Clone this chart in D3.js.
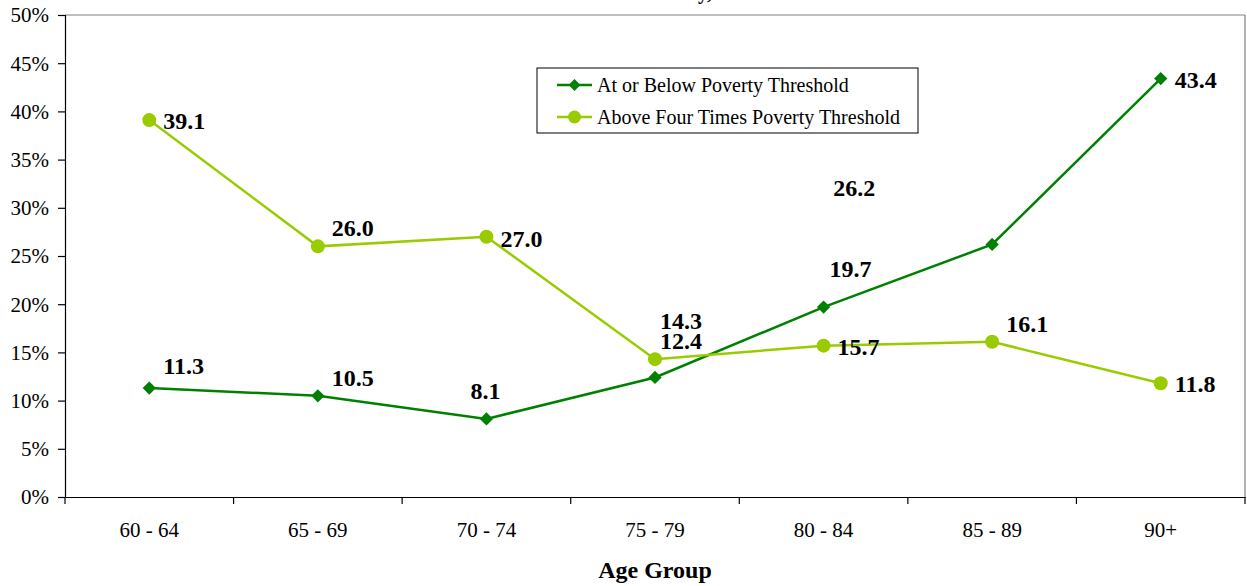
<!DOCTYPE html>
<html>
<head>
<meta charset="utf-8">
<script src="https://cdn.jsdelivr.net/npm/d3@7"></script>
<style>
  body { margin: 0; background: #fff; }
  text { font-family: "Liberation Serif", "Times New Roman", serif; }
</style>
</head>
<body>
<svg id="chart" width="1247" height="586"></svg>
<script>
// ---- data ----
const categories = ["60 - 64", "65 - 69", "70 - 74", "75 - 79", "80 - 84", "85 - 89", "90+"];
const atOrBelowPoverty = [11.3, 10.5, 8.1, 12.4, 19.7, 26.2, 43.4];
const aboveFourTimesPoverty = [39.1, 26.0, 27.0, 14.3, 15.7, 16.1, 11.8];
const yTicks = [0, 5, 10, 15, 20, 25, 30, 35, 40, 45, 50];
const seriesNames = ["At or Below Poverty Threshold", "Above Four Times Poverty Threshold"];
const xAxisTitle = "Age Group";
const titleFragment = "y,";

// label placement (dx, dy from the point, in px) - styling only
const labelOffsets1 = [[14,-14],[14,-10],[-16,-20],[5,-28],[6,-30],[-159,-48],[14,9]];
const labelOffsets2 = [[14,9],[14,-10],[14,10],[5,-30],[14,9],[14,-10],[14,9]];

const colors = ["#008000", "#99CC00"];

const svg = d3.select("#chart");
const L = 65, R = 1245, T = 15, B = 497;

const x = d3.scaleBand().domain(categories).range([L, R]).padding(0);
const y = d3.scaleLinear().domain([0, 50]).range([B, T]);

// title fragment (cut off at the top)
svg.append("text").attr("x", 712).attr("y", -1).attr("text-anchor", "end")
  .attr("font-size", 20).attr("font-weight", "bold").text(titleFragment);

// plot frame: top and right grey
svg.append("line").attr("x1", L).attr("x2", R).attr("y1", T).attr("y2", T)
  .attr("stroke", "#808080").attr("stroke-width", 1.2);
svg.append("line").attr("x1", R).attr("x2", R).attr("y1", T).attr("y2", B)
  .attr("stroke", "#808080").attr("stroke-width", 1.2);

// y axis
const yAxis = d3.axisLeft(y).tickValues(yTicks).tickSize(7).tickPadding(9)
  .tickFormat(d => d + "%");
const gy = svg.append("g").attr("transform", `translate(${L},0)`).call(yAxis);
gy.select(".domain").attr("stroke", "#000").attr("stroke-width", 1.2);
gy.selectAll(".tick line").attr("stroke", "#000").attr("stroke-width", 1.2);
gy.selectAll(".tick text").attr("font-family", "Liberation Serif").attr("font-size", 21)
  .attr("fill", "#000").attr("dy", "0.33em");

// x axis
const xAxis = d3.axisBottom(x).tickSize(0).tickPadding(0);
const gx = svg.append("g").attr("transform", `translate(0,${B})`).call(xAxis);
gx.select(".domain").attr("stroke", "#000").attr("stroke-width", 1.2);
gx.selectAll(".tick text").attr("font-family", "Liberation Serif").attr("font-size", 21)
  .attr("fill", "#000").attr("y", 40).attr("dy", 0);
// boundary ticks between categories
const bounds = categories.map(c => x(c)).concat([R]);
gx.selectAll(".bound").data(bounds).enter().append("line")
  .attr("x1", d => d).attr("x2", d => d).attr("y1", 0).attr("y2", 7)
  .attr("stroke", "#000").attr("stroke-width", 1.2);

// x axis title
svg.append("text").attr("x", (L + R) / 2).attr("y", 578).attr("text-anchor", "middle")
  .attr("font-size", 24).attr("font-weight", "bold").text(xAxisTitle);

const cx = c => x(c) + x.bandwidth() / 2;
const line = d3.line().x((d, i) => cx(categories[i])).y(d => y(d));

function drawSeries(values, color, shape, offsets) {
  svg.append("path").datum(values).attr("d", line).attr("fill", "none")
    .attr("stroke", color).attr("stroke-width", 2.5);
  if (shape === "diamond") {
    svg.selectAll(null).data(values).enter().append("path")
      .attr("d", d3.symbol().type(d3.symbolSquare).size(88))
      .attr("transform", (d, i) => `translate(${cx(categories[i])},${y(d)}) rotate(45)`)
      .attr("fill", color);
  } else {
    svg.selectAll(null).data(values).enter().append("circle")
      .attr("cx", (d, i) => cx(categories[i])).attr("cy", d => y(d)).attr("r", 7)
      .attr("fill", color);
  }
  svg.selectAll(null).data(values).enter().append("text")
    .attr("x", (d, i) => cx(categories[i]) + offsets[i][0])
    .attr("y", (d, i) => y(d) + offsets[i][1])
    .attr("font-size", 24).attr("font-weight", "bold").attr("fill", "#000")
    .text(d => d.toFixed(1));
}

drawSeries(atOrBelowPoverty, colors[0], "diamond", labelOffsets1);
drawSeries(aboveFourTimesPoverty, colors[1], "circle", labelOffsets2);

// legend
const lg = svg.append("g");
lg.append("rect").attr("x", 537).attr("y", 68).attr("width", 381).attr("height", 65)
  .attr("fill", "#fff").attr("stroke", "#000").attr("stroke-width", 1);
seriesNames.forEach((name, i) => {
  const ly = 85 + i * 32;
  lg.append("line").attr("x1", 557).attr("x2", 592).attr("y1", ly).attr("y2", ly)
    .attr("stroke", colors[i]).attr("stroke-width", 2.5);
  if (i === 0) {
    lg.append("path").attr("d", d3.symbol().type(d3.symbolSquare).size(70))
      .attr("transform", `translate(574.5,${ly}) rotate(45)`).attr("fill", colors[i]);
  } else {
    lg.append("circle").attr("cx", 574.5).attr("cy", ly).attr("r", 6.5).attr("fill", colors[i]);
  }
  lg.append("text").attr("x", 597).attr("y", ly + 7).attr("font-size", 20)
    .attr("fill", "#000").text(name);
});
</script>
</body>
</html>
